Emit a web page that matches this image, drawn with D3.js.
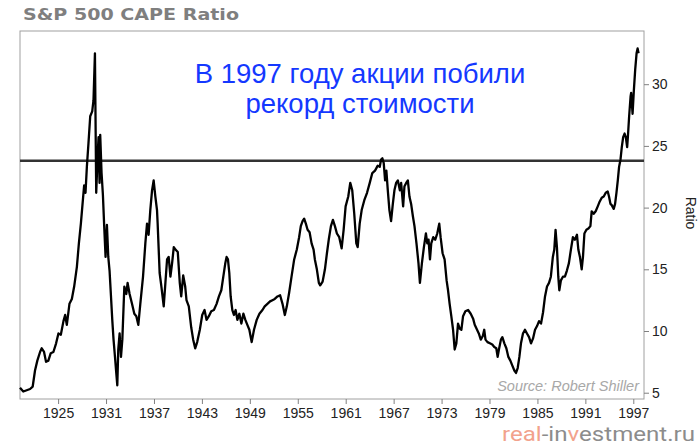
<!DOCTYPE html>
<html><head><meta charset="utf-8">
<script src="https://cdn.jsdelivr.net/npm/d3@7"></script>
<style>html,body{margin:0;padding:0;background:#fff;}svg{display:block;}</style>
</head><body>
<script>
const title = "S&P 500 CAPE Ratio";
const annotationLines = ["В 1997 году акции побили", "рекорд стоимости"];
const sourceText = "Source: Robert Shiller";
const yAxisLabel = "Ratio";
const xTickYears = [1925,1931,1937,1943,1949,1955,1961,1967,1973,1979,1985,1991,1997];
const yTickValues = [5,10,15,20,25,30];
const referenceLevel = 23.8;
const years = [
1920.23,1920.64,1921.07,1921.49,1921.82,1922.11,1922.40,1922.74,1922.95,1923.24,1923.49,1923.78,1924.08,1924.41,1924.75,
1925.04,1925.34,1925.67,1925.88,1926.09,1926.42,1926.72,1927.01,1927.35,1927.60,1927.85,1928.10,1928.26,1928.43,1928.60,
1928.80,1929.02,1929.27,1929.43,1929.61,1929.77,1929.94,1930.06,1930.19,1930.27,1930.44,1930.61,1930.77,1930.94,1931.11,
1931.28,1931.44,1931.62,1931.78,1931.94,1932.12,1932.28,1932.41,1932.53,1932.70,1932.87,1933.04,1933.29,1933.54,1933.70,
1933.95,1934.25,1934.54,1934.79,1935.04,1935.29,1935.63,1935.92,1936.13,1936.33,1936.54,1936.76,1936.96,1937.17,1937.38,
1937.46,1937.71,1937.93,1938.22,1938.43,1938.64,1938.84,1939.06,1939.27,1939.48,1939.69,1939.98,1940.23,1940.41,1940.66,
1940.91,1941.07,1941.36,1941.66,1941.91,1942.16,1942.41,1942.74,1943.04,1943.33,1943.58,1943.87,1944.17,1944.50,1944.84,
1945.13,1945.43,1945.68,1945.93,1946.09,1946.26,1946.43,1946.60,1946.81,1947.01,1947.22,1947.44,1947.69,1947.94,1948.19,
1948.44,1948.69,1948.94,1949.23,1949.52,1949.86,1950.20,1950.58,1950.86,1951.20,1951.53,1951.83,1952.12,1952.46,1952.79,
1953.09,1953.38,1953.63,1953.92,1954.22,1954.55,1954.88,1955.17,1955.38,1955.60,1955.80,1956.01,1956.23,1956.48,1956.73,
1956.98,1957.14,1957.39,1957.64,1957.81,1958.11,1958.40,1958.65,1958.90,1959.15,1959.40,1959.65,1959.90,1960.19,1960.49,
1960.74,1960.99,1961.32,1961.57,1961.82,1962.07,1962.33,1962.50,1962.75,1963.00,1963.33,1963.67,1964.01,1964.33,1964.67,
1965.01,1965.26,1965.43,1965.59,1965.76,1965.93,1966.09,1966.27,1966.47,1966.68,1966.90,1967.10,1967.31,1967.53,1967.78,
1967.94,1968.19,1968.35,1968.57,1968.78,1968.98,1969.19,1969.41,1969.61,1969.86,1970.11,1970.29,1970.54,1970.79,1971.04,
1971.21,1971.37,1971.55,1971.71,1971.96,1972.21,1972.46,1972.71,1972.88,1973.13,1973.38,1973.63,1973.81,1974.01,1974.22,
1974.44,1974.64,1974.85,1975.06,1975.27,1975.48,1975.69,1975.98,1976.32,1976.65,1976.95,1977.15,1977.37,1977.66,1977.91,
1978.16,1978.34,1978.50,1978.75,1979.05,1979.35,1979.60,1979.85,1980.02,1980.18,1980.43,1980.61,1980.86,1981.11,1981.36,
1981.61,1981.86,1982.11,1982.32,1982.53,1982.74,1982.94,1983.19,1983.44,1983.69,1983.95,1984.20,1984.45,1984.70,1984.95,
1985.20,1985.45,1985.70,1985.95,1986.20,1986.45,1986.68,1986.93,1987.11,1987.27,1987.44,1987.61,1987.74,1987.94,1988.19,
1988.44,1988.69,1988.94,1989.19,1989.44,1989.69,1989.95,1990.12,1990.32,1990.54,1990.70,1990.88,1991.13,1991.38,1991.63,
1991.79,1992.04,1992.29,1992.55,1992.80,1993.05,1993.30,1993.55,1993.80,1993.96,1994.14,1994.30,1994.55,1994.72,1994.89,
1995.06,1995.22,1995.40,1995.56,1995.73,1995.91,1996.07,1996.23,1996.32,1996.48,1996.66,1996.73,1996.91,1997.07,1997.24,
1997.41,1997.54,1997.66];
const capeValues = [
5.4,5.1,5.2,5.3,5.5,6.8,7.6,8.3,8.6,8.3,7.5,7.6,8.2,8.3,9.0,
9.8,9.7,10.8,11.3,10.5,12.2,12.6,13.6,15.2,17.1,18.7,20.6,21.8,21.2,23.3,
25.2,27.4,27.8,28.7,32.5,21.2,24.1,25.7,22.0,25.9,22.8,21.0,18.5,16.0,18.6,
16.0,14.9,12.8,10.9,9.3,7.9,6.6,5.6,8.5,9.8,7.9,9.3,13.6,13.0,13.9,
13.0,12.2,11.4,11.2,10.5,12.2,14.4,17.1,18.7,17.8,19.8,21.4,22.2,20.9,19.8,
18.7,14.7,13.6,12.0,13.9,15.8,16.0,14.4,15.5,16.8,16.6,16.4,13.9,12.8,14.5,
13.6,12.5,12.0,10.3,9.3,8.6,9.1,10.1,11.3,11.7,10.9,11.2,11.6,11.7,12.2,
12.8,13.3,14.4,15.5,16.0,15.8,14.7,12.8,11.7,11.3,11.7,10.9,11.4,10.6,11.4,
10.9,10.5,10.1,9.1,10.1,10.9,11.4,11.7,12.0,12.2,12.4,12.5,12.6,12.8,12.9,
12.2,11.3,12.0,13.1,14.4,15.8,16.6,17.6,18.5,18.9,19.1,18.7,18.2,18.0,17.1,
16.6,15.8,15.0,13.9,13.7,14.0,15.0,16.3,17.5,18.5,19.0,18.5,17.9,17.6,16.7,
18.2,20.1,20.9,22.0,21.4,19.5,17.1,16.8,18.7,19.8,20.6,21.2,22.0,22.8,23.0,
23.4,23.3,23.9,24.0,23.6,22.2,23.0,21.4,19.8,18.9,20.3,21.4,22.0,22.2,21.4,
22.0,20.1,21.7,22.0,22.2,20.9,20.3,19.3,18.5,17.1,15.5,13.9,15.5,16.8,17.9,
17.1,17.4,15.8,17.1,17.6,17.4,17.9,18.7,17.6,16.3,15.8,14.1,13.3,12.2,11.2,
10.1,8.5,9.0,10.6,10.2,10.1,11.2,11.6,11.7,11.4,11.0,10.5,10.2,9.8,9.3,
9.6,10.1,9.3,9.1,9.0,8.9,8.7,8.6,7.9,8.5,9.3,9.5,9.0,8.6,7.9,
7.6,7.2,6.8,6.6,7.0,7.9,9.0,9.8,10.1,9.8,9.5,9.0,9.4,10.1,10.4,
10.8,10.6,11.5,12.8,13.6,13.9,14.4,16.0,16.6,18.2,16.8,14.4,13.3,14.1,14.4,
14.4,14.9,15.5,16.6,17.6,17.4,17.8,16.6,16.0,15.0,16.0,17.9,18.2,18.3,18.5,
19.7,19.5,19.7,20.1,20.5,20.8,20.9,21.2,21.3,20.9,20.3,20.2,19.9,20.3,21.2,
22.2,23.3,23.9,24.9,25.7,26.0,25.7,24.9,25.7,27.4,29.0,29.3,27.6,29.5,31.2,
32.5,32.9,32.5];

const W = 700, H = 446;
const svg = d3.select("body").append("svg").attr("width", W).attr("height", H);
const plot = {left: 20, right: 644, top: 31, bottom: 399};
const x = d3.scaleLinear().domain([1920.23, 1998.34]).range([plot.left, plot.right]);
const y = d3.scaleLinear().domain([4.49, 34.31]).range([plot.bottom, plot.top]);
const sans = "Liberation Sans, Arial, sans-serif";

// title
svg.append("text").attr("x", 23).attr("y", 20).text(title)
  .attr("font-family", "DejaVu Sans, Verdana, sans-serif").attr("font-weight", "bold")
  .attr("font-size", 16.5).attr("fill", "#7f7f7f")
  .attr("textLength", 216).attr("lengthAdjust", "spacingAndGlyphs");

// frame
svg.append("rect").attr("x", plot.left).attr("y", plot.top)
  .attr("width", plot.right - plot.left).attr("height", plot.bottom - plot.top)
  .attr("fill", "none").attr("stroke", "#a0a0a0").attr("stroke-width", 1);

// axes
const xAxis = d3.axisBottom(x).tickValues(xTickYears).tickFormat(d3.format("d")).tickSize(5).tickPadding(4);
const gx = svg.append("g").attr("transform", `translate(0,${plot.bottom})`).call(xAxis);
gx.select(".domain").remove();
gx.selectAll("line").attr("stroke", "#808080");
gx.selectAll("text").attr("font-family", sans).attr("font-size", 14).attr("fill", "#222");

const yAxis = d3.axisRight(y).tickValues(yTickValues).tickSize(5).tickPadding(3);
const gy = svg.append("g").attr("transform", `translate(${plot.right},0)`).call(yAxis);
gy.select(".domain").remove();
gy.selectAll("line").attr("stroke", "#808080");
gy.selectAll("text").attr("font-family", sans).attr("font-size", 14).attr("fill", "#222");

svg.append("text").text(yAxisLabel)
  .attr("transform", `translate(686,213) rotate(90)`)
  .attr("text-anchor", "middle")
  .attr("font-family", sans).attr("font-size", 14).attr("fill", "#222");

// reference line
svg.append("line").attr("x1", plot.left).attr("x2", plot.right)
  .attr("y1", y(referenceLevel)).attr("y2", y(referenceLevel))
  .attr("stroke", "#333").attr("stroke-width", 2.5);

// CAPE line
const data = years.map((yr, i) => ({yr, v: capeValues[i]}));
svg.append("path").datum(data)
  .attr("d", d3.line().x(d => x(d.yr)).y(d => y(d.v)))
  .attr("fill", "none").attr("stroke", "#000").attr("stroke-width", 2.3)
  .attr("stroke-linejoin", "round");

// annotation
annotationLines.forEach((t, i) => {
  svg.append("text").attr("x", 360).attr("y", 83 + i * 29.5).text(t)
    .attr("text-anchor", "middle")
    .attr("font-family", sans).attr("font-size", 27.5)
    .attr("fill", "#1438ff");
});

// source
svg.append("text").attr("x", 639).attr("y", 391).text(sourceText)
  .attr("text-anchor", "end").attr("font-style", "italic")
  .attr("font-family", sans).attr("font-size", 14.5)
  .attr("fill", "#a8a8a8");

// watermark (scaled horizontally to fit its width)
const wmG = svg.append("g");
const wm = wmG.append("text").attr("x", 0).attr("y", 0)
  .attr("font-family", "Liberation Sans Narrow, Roboto, sans-serif").attr("font-size", 21);
[["real", "#f2a28c"], ["-in", "#8c8c8c"], ["v", "#f2a28c"], ["estment.ru", "#8c8c8c"]]
  .forEach(([t, c]) => wm.append("tspan").text(t).attr("fill", c));
const natural = wm.node().getComputedTextLength() || 194;
const sx = 193 / natural;
wmG.attr("transform", `translate(502,441) scale(${sx},1)`);
</script>
</body></html>
